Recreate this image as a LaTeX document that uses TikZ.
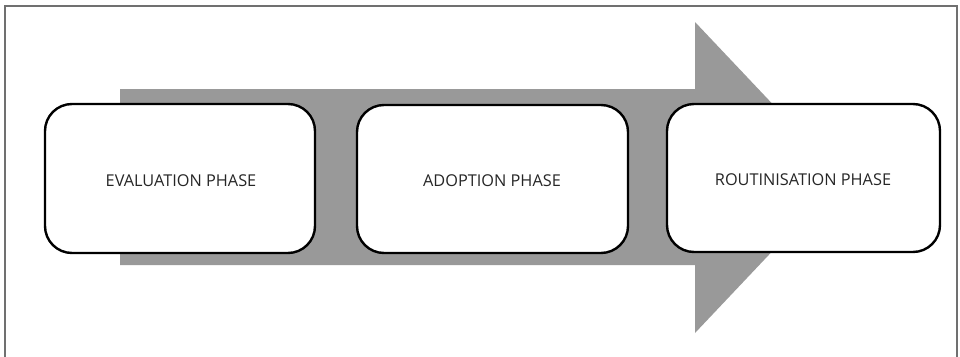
\documentclass[tikz,border=0pt]{standalone}
\usepackage{fontspec}
\setmainfont{Open Sans}
\definecolor{bandgray}{HTML}{999999}
\definecolor{framegray}{HTML}{707070}
\definecolor{txt}{HTML}{262626}
\begin{document}
\begin{tikzpicture}[x=1pt,y=-1pt,
  phasebox/.style={draw=black, line width=2.4pt, fill=white, rounded corners=27pt},
  phaselabel/.style={text=txt, font=\fontsize{16.3}{19}\selectfont, inner sep=0pt}]
\useasboundingbox (0,0) rectangle (960,356);
\fill[white] (0,0) rectangle (960,356);
% frame
\draw[framegray, line width=1.5pt] (5,360) -- (5,6) -- (957,6) -- (957,360);
% big arrow
\fill[bandgray] (120,89) -- (695,89) -- (695,22) -- (842,177.5) -- (695,333) -- (695,265) -- (120,265) -- cycle;
% boxes
\draw[phasebox] (45,104) rectangle (315,253);
\draw[phasebox] (357,105) rectangle (628,253);
\draw[phasebox] (667,104) rectangle (940,252);
\node[phaselabel] (eval) at (181,181) {EVALUATION PHASE};
\node[phaselabel] (adopt) at (492,181) {ADOPTION PHASE};
\node[phaselabel] (rout) at (803,180) {ROUTINISATION PHASE};
\end{tikzpicture}
\end{document}
